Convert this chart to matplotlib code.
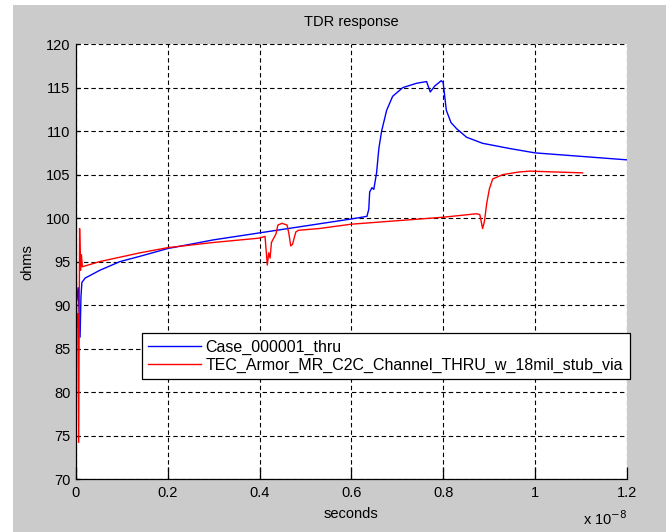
import numpy as np
import matplotlib
matplotlib.use('Agg')
import matplotlib.pyplot as plt
from matplotlib.patches import Rectangle
from matplotlib.ticker import FuncFormatter

# time values in units of 1e-8 s
t_case = [0.001, 0.002, 0.005, 0.009, 0.011, 0.013, 0.02, 0.052, 0.096, 0.139,
          0.2, 0.3, 0.4, 0.5, 0.6, 0.634, 0.638, 0.64, 0.645, 0.649, 0.655,
          0.66, 0.666, 0.677, 0.69, 0.712, 0.742, 0.764, 0.772, 0.782, 0.796,
          0.8, 0.807, 0.817, 0.829, 0.851, 0.886, 0.945, 1.0, 1.1, 1.2]
z_case = [92.0, 90.5, 92.0, 86.3, 91.0, 92.6, 93.1, 94.0, 95.0, 95.6,
          96.5, 97.5, 98.3, 99.1, 99.9, 100.2, 101.0, 103.0, 103.5, 103.3, 105.2,
          108.0, 110.0, 112.4, 114.0, 115.0, 115.5, 115.7, 114.5, 115.2, 115.8,
          115.6, 112.4, 111.0, 110.3, 109.3, 108.6, 108.0, 107.5, 107.1, 106.7]

t_tec = [0.0, 0.002, 0.004, 0.006, 0.008, 0.010, 0.012, 0.014, 0.02, 0.052,
         0.139, 0.2, 0.3, 0.4, 0.412, 0.417, 0.42, 0.423, 0.426, 0.436, 0.44,
         0.449, 0.46, 0.464, 0.468, 0.472, 0.479, 0.485, 0.53, 0.6, 0.8, 0.873,
         0.880, 0.886, 0.890, 0.895, 0.901, 0.908, 0.93, 0.965, 0.989, 1.104]
z_tec = [100.6, 87.5, 89.0, 74.2, 98.8, 94.0, 95.8, 94.4, 94.5, 95.0,
         96.0, 96.6, 97.2, 97.7, 97.9, 94.6, 96.0, 95.4, 97.2, 98.2, 99.2,
         99.4, 99.2, 98.2, 96.8, 97.0, 98.4, 98.6, 98.8, 99.3, 100.1, 100.5,
         100.4, 98.8, 99.6, 101.7, 103.4, 104.5, 105.0, 105.3, 105.4, 105.2]

labels = ['Case_000001_thru', 'TEC_Armor_MR_C2C_Channel_THRU_w_18mil_stub_via']

plt.rcParams['font.family'] = ['Liberation Sans', 'DejaVu Sans']
plt.rcParams['font.size'] = 10.5

fig = plt.figure(figsize=(6.66, 5.32), dpi=100, facecolor='white')
# gray figure panel with a thin white margin on the left and top
fig.patches.append(Rectangle((13 / 666, 0), 1, 1 - 5 / 532, transform=fig.transFigure,
                             facecolor='#cbcbcb', edgecolor='none', zorder=-10))
ax = fig.add_axes([0.114, 0.0996, 0.827, 0.8174])

ax.plot(np.array(t_case) * 1e-8, z_case, color='#0000ff', lw=1.0, label=labels[0])
ax.plot(np.array(t_tec) * 1e-8, z_tec, color='#ff0000', lw=1.0, label=labels[1])

ax.set_xlim(0, 1.2e-8)
ax.set_ylim(70, 120)
ax.set_xticks(np.arange(0, 1.21, 0.2) * 1e-8)
ax.set_yticks(np.arange(70, 121, 5))
ax.xaxis.set_major_formatter(FuncFormatter(lambda v, p: '%g' % round(v / 1e-8, 3)))
ax.yaxis.set_major_formatter(FuncFormatter(lambda v, p: '%g' % v))
ax.tick_params(axis='x', direction='in', length=9, width=0.9, pad=5)
ax.tick_params(axis='y', direction='in', length=3, width=0.9, pad=4)
ax.grid(True, color='black', linestyle=(0, (4, 2.7)), linewidth=0.8)
ax.spines['top'].set_visible(False)
ax.spines['right'].set_visible(False)
ax.spines['left'].set_linewidth(0.9)
ax.spines['bottom'].set_linewidth(0.9)

ax.set_title('TDR response', fontsize=10.5, pad=13)
ax.set_xlabel('seconds', labelpad=5)
ax.set_ylabel('ohms', labelpad=8)
fig.text(0.876, 0.013, 'x 10$^{-8}$', fontsize=10.5)

leg = ax.legend(loc='upper left', bbox_to_anchor=(0.213, 0.374),
                bbox_transform=fig.transFigure, fancybox=False, framealpha=1,
                edgecolor='black', fontsize=11.5, handlelength=3.3,
                borderpad=0.4, labelspacing=0.2, handletextpad=0.3,
                borderaxespad=0)
leg.get_frame().set_linewidth(0.9)

fig.savefig('out.png', dpi=100, facecolor=fig.get_facecolor())
